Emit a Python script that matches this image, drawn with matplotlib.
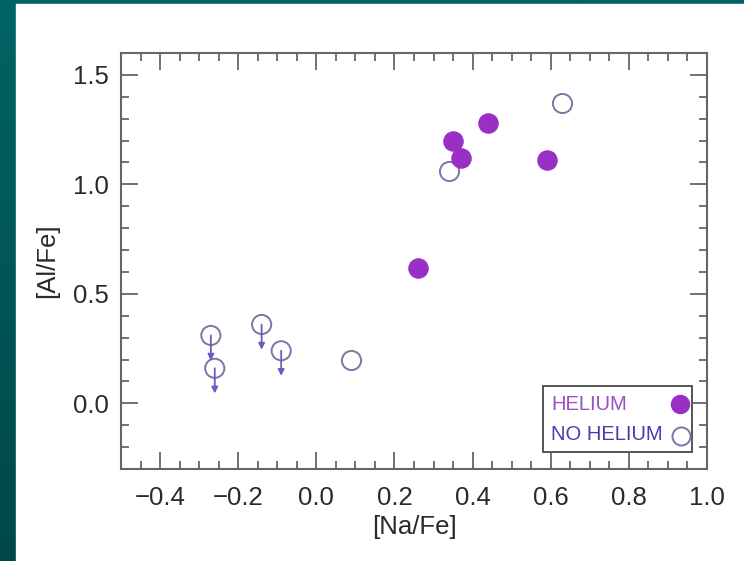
import matplotlib
matplotlib.use("Agg")
import matplotlib.pyplot as plt
import numpy as np
from matplotlib.patches import Rectangle
from matplotlib.ticker import MultipleLocator

# data
he_na = [0.26, 0.35, 0.37, 0.44, 0.59]
he_al = [0.62, 1.20, 1.12, 1.28, 1.11]

nohe_na = [0.09, 0.34, 0.63]
nohe_al = [0.20, 1.06, 1.37]

# upper limits (no helium, with arrows)
lim_na = [-0.27, -0.26, -0.14, -0.09]
lim_al = [0.31, 0.16, 0.36, 0.24]

legend_labels = ['HELIUM', 'NO HELIUM']

plt.rcParams['font.family'] = ['Liberation Sans', 'DejaVu Sans']

fig = plt.figure(figsize=(7.44, 5.61), dpi=100)

# teal frame with a slight gradient, white panel on top
bg = fig.add_axes([0, 0, 1, 1], zorder=-10)
grad = np.linspace(0, 1, 256).reshape(-1, 1)
cmap = matplotlib.colors.LinearSegmentedColormap.from_list("teal", ["#006464", "#004848"])
bg.imshow(grad, aspect='auto', cmap=cmap, extent=[0, 1, 0, 1], origin='upper')
bg.add_patch(Rectangle((16 / 744, 0), 1, 1 - 4 / 561, color='white', transform=bg.transAxes))
bg.set_xlim(0, 1)
bg.set_ylim(0, 1)
bg.axis('off')

ax = fig.add_axes([121 / 744, 92 / 561, 586 / 744, 416 / 561])
ax.set_facecolor('none')

purple = '#9a2fc6'
ring = '#7a76a8'
arrow_c = '#6a5cc0'

ax.scatter(he_na, he_al, s=190, color=purple, edgecolors=purple, zorder=3)
ax.scatter(nohe_na, nohe_al, s=190, facecolors='white', edgecolors=ring, linewidths=1.4, zorder=2)
ax.scatter(lim_na, lim_al, s=190, facecolors='none', edgecolors=ring, linewidths=1.4, zorder=2)
for x, y in zip(lim_na, lim_al):
    ax.annotate('', xy=(x, y - 0.115), xytext=(x, y),
                arrowprops=dict(arrowstyle='-|>', color=arrow_c, lw=1.3,
                                mutation_scale=9, shrinkA=0, shrinkB=0))

ax.set_xlim(-0.5, 1.0)
ax.set_ylim(-0.3, 1.6)
ax.set_xticks([-0.4, -0.2, 0.0, 0.2, 0.4, 0.6, 0.8, 1.0])
ax.set_xticklabels(['\u22120.4', '\u22120.2', '0.0', '0.2', '0.4', '0.6', '0.8', '1.0'])
ax.set_yticks([0.0, 0.5, 1.0, 1.5])
ax.set_yticklabels(['0.0', '0.5', '1.0', '1.5'])
ax.xaxis.set_minor_locator(MultipleLocator(0.05))
ax.yaxis.set_minor_locator(MultipleLocator(0.1))

axc = '#666666'
for s in ax.spines.values():
    s.set_color(axc)
    s.set_linewidth(1.5)
ax.tick_params(which='both', direction='in', top=True, right=True, colors=axc, width=1.3)
ax.tick_params(which='major', length=12, labelsize=18.5, labelcolor='#2a2a2a')
ax.tick_params(axis='x', which='major', pad=12)
ax.tick_params(axis='y', which='major', pad=9)
ax.tick_params(which='minor', length=6)

ax.set_xlabel('[Na/Fe]', fontsize=18.5, color='#2a2a2a', labelpad=4)
ax.set_ylabel('[Al/Fe]', fontsize=18.5, color='#2a2a2a', labelpad=10)

# legend box drawn by hand so the labels sit left and the markers right
ax.add_patch(Rectangle((0.720, 0.041), 0.254, 0.158, transform=ax.transAxes,
                       facecolor='white', edgecolor='#555555', lw=1.4, zorder=4))
ax.text(0.734, 0.156, legend_labels[0], transform=ax.transAxes, fontsize=14.5,
        color='#9a4fc4', va='center', ha='left', zorder=5)
ax.text(0.734, 0.082, legend_labels[1], transform=ax.transAxes, fontsize=14.5,
        color='#4a3cb0', va='center', ha='left', zorder=5)
ax.plot([0.954], [0.156], 'o', ms=13, color=purple, transform=ax.transAxes, zorder=5)
ax.plot([0.955], [0.080], 'o', ms=13, mfc='white', mec=ring, mew=1.4,
        transform=ax.transAxes, zorder=5)

fig.savefig('out.png', dpi=100)
